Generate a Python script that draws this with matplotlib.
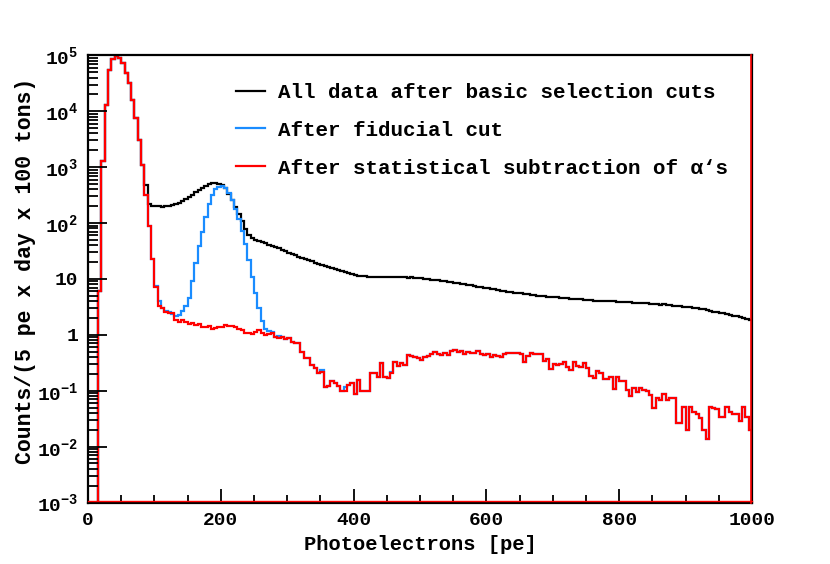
import numpy as np
import matplotlib
matplotlib.use("Agg")
import matplotlib.pyplot as plt
from matplotlib.ticker import FixedLocator, FixedFormatter, LogLocator, NullFormatter, MultipleLocator

# ---------------- data (5 pe bins, 0..1000 pe) ----------------
bin_width = 5
x_min, x_max = 0, 1000

all_data = [
    0, 0, 0, 6, 1300, 12700, 54000, 87000, 98000, 90000,
    72000, 48000, 32000, 16000, 7500, 3000, 1080, 470, 220, 205,
    200, 198, 197, 199, 203, 210, 220, 232, 247, 265,
    290, 320, 355, 395, 430, 462, 490, 512, 520, 505,
    470, 420, 330, 255, 195, 145, 108, 78, 62, 55,
    50, 47, 45, 43, 41, 39, 37, 35, 33.5, 31,
    29, 27.5, 26.5, 25, 24, 22.5, 21.5, 20.5, 19.5, 18.7,
    18, 17, 16.4, 15.6, 15.1, 14.6, 14.0, 13.3, 12.7, 12.2,
    11.8, 11.5, 11.3, 11.1, 11.0, 10.9, 11.0, 10.8, 10.7, 10.8,
    10.7, 10.6, 10.8, 10.7, 10.6, 10.7, 10.5, 10.6, 10.4, 10.5,
    10.2, 10.0, 9.9, 9.7, 9.6, 9.4, 9.2, 9.0, 8.9, 8.7,
    8.5, 8.3, 8.2, 8.0, 7.8, 7.7, 7.5, 7.3, 7.1, 7.0,
    6.9, 6.7, 6.5, 6.3, 6.2, 6.0, 5.9, 5.8, 5.7, 5.6,
    5.5, 5.45, 5.3, 5.2, 5.15, 5.0, 4.95, 4.9, 4.8, 4.75,
    4.7, 4.65, 4.55, 4.5, 4.5, 4.4, 4.35, 4.3, 4.3, 4.25,
    4.2, 4.15, 4.1, 4.1, 4.05, 4.0, 4.05, 3.95, 4.0, 3.9,
    3.9, 3.85, 3.8, 3.85, 3.75, 3.7, 3.7, 3.65, 3.65, 3.6,
    3.55, 3.5, 3.45, 3.5, 3.4, 3.35, 3.3, 3.3, 3.25, 3.2,
    3.15, 3.1, 3.0, 2.98, 2.9, 2.85, 2.75, 2.7, 2.6, 2.55,
    2.5, 2.45, 2.35, 2.28, 2.2, 2.15, 2.1, 2.0, 1.95, 1.85,
]

after_alpha = [
    0, 0, 0, 6, 1300, 12700, 54000, 87000, 98000, 90000,
    72000, 48000, 32000, 16000, 7500, 3000, 1080, 315, 90, 23,
    7.3, 3.3, 3.0, 2.6, 2.42, 2.42, 1.84, 1.72, 1.84, 1.72,
    1.56, 1.6, 1.5, 1.56, 1.40, 1.40, 1.43, 1.25, 1.30, 1.40,
    1.40, 1.5, 1.43, 1.43, 1.40, 1.25, 1.22, 1.06, 1.08, 1.03,
    1.1, 1.2, 1.06, 0.99, 1.05, 1.07, 0.92, 0.88, 0.9, 0.85,
    0.88, 0.74, 0.72, 0.70, 0.5, 0.39, 0.38, 0.29, 0.25, 0.21,
    0.22, 0.115, 0.12, 0.15, 0.14, 0.12, 0.098, 0.10, 0.126, 0.137,
    0.089, 0.157, 0.097, 0.10, 0.10, 0.205, 0.207, 0.174, 0.31, 0.178,
    0.167, 0.205, 0.32, 0.28, 0.317, 0.29, 0.43, 0.418, 0.406, 0.39,
    0.35, 0.40, 0.41, 0.46, 0.485, 0.455, 0.43, 0.47, 0.43, 0.52,
    0.545, 0.50, 0.51, 0.46, 0.49, 0.48, 0.48, 0.51, 0.454, 0.433,
    0.454, 0.405, 0.44, 0.41, 0.40, 0.445, 0.47, 0.48, 0.467, 0.48,
    0.45, 0.33, 0.418, 0.466, 0.454, 0.447, 0.447, 0.345, 0.37, 0.24,
    0.30, 0.288, 0.30, 0.33, 0.269, 0.234, 0.33, 0.277, 0.269, 0.31,
    0.26, 0.184, 0.167, 0.228, 0.21, 0.16, 0.16, 0.175, 0.107, 0.175,
    0.152, 0.152, 0.104, 0.081, 0.110, 0.093, 0.110, 0.101, 0.097, 0.085,
    0.050, 0.074, 0.068, 0.088, 0.068, 0.073, 0.073, 0.026, 0.026, 0.052,
    0.0198, 0.051, 0.042, 0.038, 0.032, 0.020, 0.0135, 0.052, 0.050, 0.048,
    0.0334, 0.0334, 0.052, 0.041, 0.038, 0.038, 0.0285, 0.052, 0.0334, 0.0198,
]

# fiducial: bins 20..54 differ from the alpha-subtracted curve, a few later bins slightly higher
fiducial_20_54 = [
    7.4, 4.1, 3.0, 2.7, 2.55, 2.4, 2.2, 2.3, 2.7, 3.3,
    4.6, 9, 19, 38, 70, 128, 220, 315, 400, 440,
    450, 425, 350, 260, 180, 120, 72, 42, 22, 11,
    5.6, 3.0, 1.8, 1.25, 1.15,
]
fiducial_extra = {55: 1.12, 57: 0.95, 63: 0.72, 70: 0.235, 77: 0.115, 91: 0.215}

fiducial = list(after_alpha)
fiducial[20:55] = fiducial_20_54
for k, v in fiducial_extra.items():
    fiducial[k] = v

legend_labels = [
    "All data after basic selection cuts",
    "After fiducial cut",
    "After statistical subtraction of \u03b1\u2018s",
]

# ---------------- style ----------------
plt.rcParams['font.family'] = ['Liberation Mono', 'DejaVu Sans Mono', 'DejaVu Sans']
plt.rcParams['font.weight'] = 'bold'
plt.rcParams['mathtext.fontset'] = 'custom'
plt.rcParams['mathtext.rm'] = 'Liberation Mono:bold'
plt.rcParams['mathtext.it'] = 'Liberation Mono:bold'
plt.rcParams['mathtext.bf'] = 'Liberation Mono:bold'

W, H = 830, 564
fig = plt.figure(figsize=(W / 100, H / 100), dpi=100)
ax = fig.add_axes([88 / W, 1 - 502.5 / H, (752 - 88) / W, (502.5 - 55.3) / H])

edges = np.arange(x_min, x_max + bin_width, bin_width)
ymin, ymax = 1e-3, 1e5

def floor_zero(vals):
    a = np.asarray(vals, dtype=float)
    return np.where(a > 0, a, ymin)

col_black = '#000000'
col_blue = '#1a8cff'
col_red = '#ff0000'
lw = 1.6

ax.stairs(floor_zero(all_data), edges, color=col_black, lw=lw, baseline=None)
ax.stairs(floor_zero(fiducial), edges, color=col_blue, lw=lw, baseline=None)
ax.stairs(floor_zero(after_alpha), edges, color=col_red, lw=lw, baseline=None)

ax.set_yscale('log')
ax.set_xlim(x_min, x_max)
ax.set_ylim(ymin, ymax)

# ticks
ax.xaxis.set_major_locator(MultipleLocator(200))
ax.xaxis.set_minor_locator(MultipleLocator(50))
yt = [1e-3, 1e-2, 1e-1, 1, 10, 1e2, 1e3, 1e4, 1e5]
ylabels = [r'$10^{-3}$', r'$10^{-2}$', r'$10^{-1}$', '1', '10',
           r'$10^{2}$', r'$10^{3}$', r'$10^{4}$', r'$10^{5}$']
ax.yaxis.set_major_locator(FixedLocator(yt))
ax.yaxis.set_major_formatter(FixedFormatter(ylabels))
ax.yaxis.set_minor_locator(LogLocator(base=10, subs=np.arange(2, 10), numticks=20))
ax.yaxis.set_minor_formatter(NullFormatter())

ax.tick_params(axis='both', which='both', direction='in', top=False, right=False,
               labelsize=14, width=1.3, color='black')
ax.tick_params(axis='y', which='major', length=14, pad=7)
ax.tick_params(axis='y', which='minor', length=7)
ax.tick_params(axis='x', which='major', length=10, pad=7)
ax.tick_params(axis='x', which='minor', length=6)
for lab in ax.get_xticklabels() + ax.get_yticklabels():
    lab.set_fontweight('bold')

for s in ax.spines.values():
    s.set_linewidth(1.6)
    s.set_color('black')

# red outline of the red histogram along the bottom and right frame edges
ax.plot([x_min, x_max], [ymin * 10 ** (1.2 / 55.9)] * 2, color=col_red, lw=1.0,
        clip_on=False, zorder=3)
ax.plot([x_max - 1.3, x_max - 1.3], [ymin, ymax], color=col_red, lw=1.2,
        clip_on=False, zorder=3)

ax.set_xlabel('Photoelectrons [pe]', fontsize=14.8, fontweight='bold', labelpad=4)
ax.set_ylabel('Counts/(5 pe x day x 100 tons)', fontsize=15.5, fontweight='bold', labelpad=0)
ax.yaxis.set_label_coords(-0.079, (502.5 - 271) / (502.5 - 55.3))

# legend (no frame, ROOT-like)
handles = [plt.Line2D([], [], color=c, lw=lw) for c in (col_black, col_blue, col_red)]
leg = ax.legend(handles, legend_labels, loc='upper left',
                bbox_to_anchor=((236 - 88) / (752 - 88), 1 - (83 - 55.3) / (502.5 - 55.3)),
                frameon=False, fontsize=15, handlelength=1.4, handletextpad=0.6,
                labelspacing=0.9, borderaxespad=0, borderpad=0)
for t in leg.get_texts():
    t.set_fontweight('bold')

fig.savefig('out.png', dpi=100)
